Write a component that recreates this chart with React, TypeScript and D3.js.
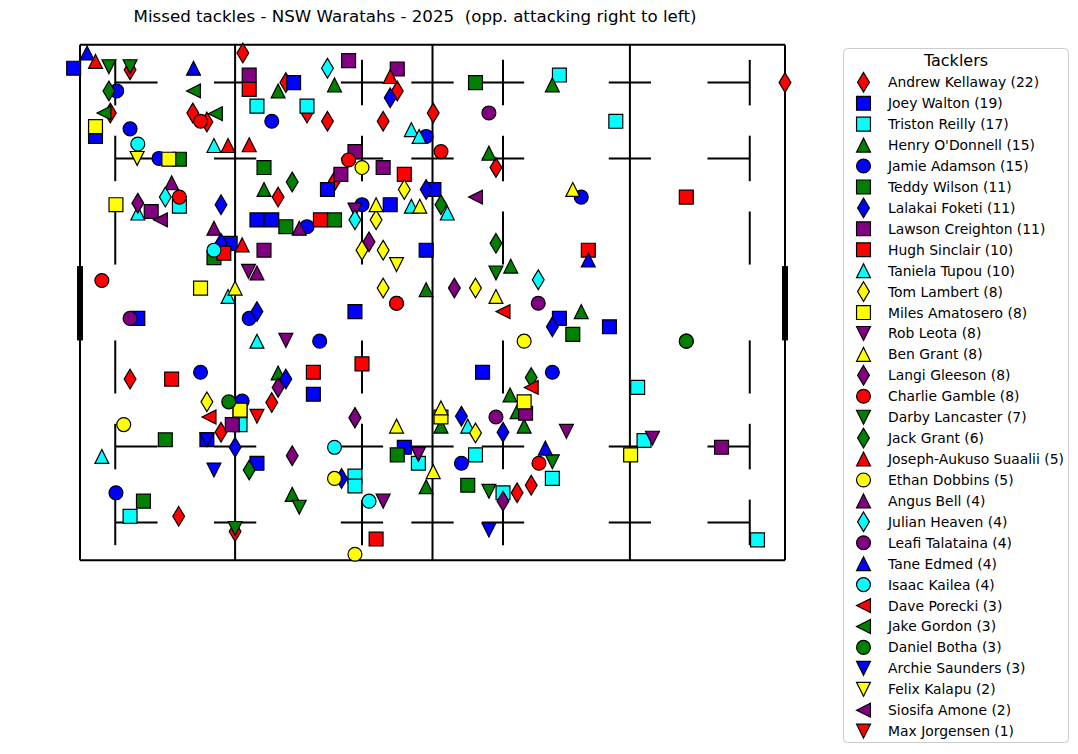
import React from 'react';
import * as d3 from 'd3';

// tackle locations, metres: x along pitch (0-100), y across (0-68 from top touchline)
const kellaway = [[7.1,3.3],[4.3,9.0],[16.0,9.0],[18.0,10.2],[23.1,1.1],[29.2,5.0],[35.1,10.1],[45.0,6.1],[43.0,10.1],[28.1,20.1],[36.1,18.0],[50.1,9.0],[59.0,16.2],[100.0,5.0],[7.1,44.1],[20.0,51.1],[14.0,62.2],[22.0,64.2],[27.2,47.2],[62.0,59.1],[64.0,58.1],[32.2,9.0]];
const walton = [[-0.9,3.1],[2.2,12.1],[21.3,26.2],[30.3,5.0],[35.1,19.1],[44.0,21.1],[50.2,19.1],[25.1,23.1],[27.2,23.1],[49.1,27.1],[8.2,36.1],[18.0,52.1],[39.0,35.2],[33.1,46.1],[25.1,55.2],[46.0,53.1],[68.0,36.1],[75.1,37.2],[57.1,43.2]];
const reilly = [[14.1,21.3],[25.1,8.1],[32.2,8.1],[68.0,4.0],[76.0,10.1],[22.7,50.1],[7.1,62.2],[48.0,55.2],[39.0,56.9],[39.0,58.2],[56.1,54.1],[67.0,57.2],[60.0,59.1],[79.1,45.2],[80.0,52.2],[96.1,65.3],[22.7,48.2]];
const odonnell = [[28.1,6.1],[36.1,5.3],[67.0,5.3],[58.0,14.3],[26.1,19.1],[61.1,29.2],[49.1,32.3],[71.1,35.2],[28.1,43.3],[61.0,46.2],[62.0,48.4],[63.0,50.3],[51.2,50.3],[49.1,58.3],[30.1,59.3]];
const adamson = [[5.2,6.1],[7.1,11.1],[11.2,15.0],[27.2,10.1],[49.1,12.1],[40.0,21.1],[32.2,24.0],[71.1,20.1],[17.1,43.2],[23.0,47.0],[5.1,59.1],[24.0,36.1],[34.0,39.1],[67.0,43.2],[54.1,55.2]];
const wilson = [[14.1,15.1],[19.0,28.1],[26.1,16.2],[29.2,24.0],[36.1,23.1],[56.1,5.0],[12.1,52.1],[9.0,60.2],[45.0,54.1],[69.9,38.2],[55.0,58.1]];
const foketi = [[20.0,21.1],[20.0,26.2],[44.0,7.0],[49.1,19.1],[22.0,53.1],[25.1,35.2],[29.2,44.1],[37.1,57.2],[67.0,37.2],[54.1,49.0],[60.0,51.1]];
const creighton = [[10.1,22.0],[24.0,4.0],[38.1,2.1],[45.0,3.2],[39.0,14.1],[43.0,16.2],[37.0,17.1],[26.1,27.1],[21.6,50.1],[91.0,53.1],[63.2,48.6]];
const sinclair = [[24.0,5.9],[46.0,17.1],[34.1,23.1],[20.4,27.5],[72.1,27.1],[86.0,20.1],[13.0,44.1],[40.0,42.1],[33.1,43.2],[42.0,65.2]];
const tupou = [[19.0,13.3],[8.2,22.2],[21.0,33.2],[47.0,11.2],[48.1,12.1],[47.0,21.3],[52.1,22.2],[3.1,54.3],[25.1,39.1],[55.0,50.3]];
const lambert = [[46.0,19.1],[42.0,23.1],[40.0,27.1],[43.0,27.1],[43.0,32.1],[56.1,32.1],[18.0,47.1],[56.1,51.2]];
const amatosero = [[2.2,10.8],[12.6,15.1],[5.1,21.1],[17.1,32.1],[22.7,48.2],[63.0,47.1],[51.2,49.1],[78.1,54.1]];
const leota = [[39.0,21.8],[23.9,29.9],[29.2,39.0],[48.0,54.0],[43.0,60.2],[69.0,51.0],[81.2,51.9],[48.0,54.0]];
const benGrant = [[42.0,21.1],[48.2,21.3],[69.9,19.1],[22.0,32.1],[59.0,33.2],[44.9,50.3],[51.2,47.9],[50.1,56.3]];
const gleeson = [[8.2,20.9],[41.0,26.0],[53.1,32.1],[28.1,45.2],[39.0,49.2],[30.1,54.2],[60.0,60.2],[39.0,49.2]];
const gamble = [[17.1,10.1],[14.1,20.1],[3.1,31.1],[38.1,15.2],[44.9,34.1],[51.2,14.1],[65.1,55.2],[44.9,34.1]];
const lancaster = [[4.1,2.9],[7.1,2.9],[59.0,30.1],[22.0,63.8],[31.1,61.0],[67.0,55.0],[58.0,58.9]];
const jackGrant = [[4.1,6.1],[30.1,18.1],[51.2,21.1],[59.0,26.2],[24.0,56.1],[64.0,43.9]];
const suaalii = [[2.2,2.2],[21.0,13.3],[24.0,13.2],[23.0,26.4],[44.0,4.2]];
const dobbins = [[40.0,16.2],[6.2,50.1],[36.1,57.2],[39.0,67.2],[63.0,39.1]];
const bell = [[13.0,18.2],[19.0,24.2],[31.1,24.2],[25.1,30.1]];
const heaven = [[12.1,20.1],[35.1,3.1],[39.0,23.1],[65.0,31.0]];
const talataina = [[58.0,9.0],[65.0,34.1],[7.1,36.1],[59.0,49.1]];
const edmed = [[1.0,1.1],[16.1,3.1],[72.1,28.4],[66.0,53.2]];
const kailea = [[8.2,13.1],[19.0,27.1],[36.1,53.1],[41.0,60.2]];
const porecki = [[18.3,49.1],[60.0,35.2],[64.0,45.2]];
const gordon = [[3.4,9.0],[16.1,6.1],[19.2,9.1]];
const botha = [[21.1,47.1],[86.0,39.1],[86.0,39.1]];
const saunders = [[18.0,52.1],[19.0,56.1],[58.0,64.0]];
const kalapu = [[8.1,15.0],[44.9,29.0]];
const amone = [[11.4,23.1],[56.1,20.1]];
const jorgensen = [[25.1,49.0]];

const NAMES = ['Andrew Kellaway', 'Joey Walton', 'Triston Reilly', "Henry O'Donnell", 'Jamie Adamson',
  'Teddy Wilson', 'Lalakai Foketi', 'Lawson Creighton', 'Hugh Sinclair', 'Taniela Tupou', 'Tom Lambert',
  'Miles Amatosero', 'Rob Leota', 'Ben Grant', 'Langi Gleeson', 'Charlie Gamble', 'Darby Lancaster',
  'Jack Grant', 'Joseph-Aukuso Suaalii', 'Ethan Dobbins', 'Angus Bell', 'Julian Heaven', 'Leafi Talataina',
  'Tane Edmed', 'Isaac Kailea', 'Dave Porecki', 'Jake Gordon', 'Daniel Botha', 'Archie Saunders',
  'Felix Kalapu', 'Siosifa Amone', 'Max Jorgensen'];
const POINTS = [kellaway, walton, reilly, odonnell, adamson, wilson, foketi, creighton, sinclair, tupou,
  lambert, amatosero, leota, benGrant, gleeson, gamble, lancaster, jackGrant, suaalii, dobbins, bell,
  heaven, talataina, edmed, kailea, porecki, gordon, botha, saunders, kalapu, amone, jorgensen];

// colour / marker cycle used by the original plot
const COLORS = ['red', 'blue', 'cyan', 'green', 'blue', 'green', 'blue', 'purple', 'red', 'cyan', 'yellow',
  'yellow', 'purple', 'yellow', 'purple', 'red', 'green', 'green', 'red', 'yellow', 'purple', 'cyan',
  'purple', 'blue', 'cyan', 'red', 'green', 'green', 'blue', 'yellow', 'purple', 'red'];
const MARKERS = ['d', 's', 's', '^', 'o', 's', 'd', 's', 's', '^', 'd', 's', 'v', '^', 'd', 'o', 'v', 'd',
  '^', 'o', '^', 'd', 'o', '^', 'o', '<', '<', 'o', 'v', 'v', '<', 'v'];
const FILL: Record<string, string> = {
  red: '#ff0000', blue: '#0000ff', cyan: '#00ffff', green: '#008000', purple: '#800080', yellow: '#ffff00',
};

// pitch markings (metres)
const LINES_X = [0, 22, 50, 78, 100];
const DASH_X = [5, 40, 60, 95];
const DASH_Y_SPANS = [[2, 8], [12, 18], [22, 29], [39, 46], [50, 56], [60, 66]];
const HDASH_Y = [5, 15, 53, 63];
const HDASH_X_SPANS = [[5, 11], [19, 25], [37, 43], [47, 53], [57, 63], [75, 81], [89, 95]];

const W = 1078;
const H = 754;
const MS = 13.9;
const FONT = 'DejaVu Sans, sans-serif';

function markerPath(kind: string, s: number): string {
  const h = s / 2;
  if (kind === 's') return `M${-h},${-h}H${h}V${h}H${-h}Z`;
  if (kind === '^') return `M0,${-h}L${h},${h}L${-h},${h}Z`;
  if (kind === 'v') return `M0,${h}L${h},${-h}L${-h},${-h}Z`;
  if (kind === '<') return `M${-h},0L${h},${-h}L${h},${h}Z`;
  if (kind === 'd') {
    const dh = (s * Math.SQRT2) / 2;
    const dw = dh * 0.6;
    return `M0,${-dh}L${dw},0L0,${dh}L${-dw},0Z`;
  }
  const r = h;
  return `M${r},0A${r},${r} 0 1,1 ${-r},0A${r},${r} 0 1,1 ${r},0Z`;
}

export default function App() {
  const x = d3.scaleLinear().domain([0, 100]).range([80, 785]);
  const y = d3.scaleLinear().domain([0, 68]).range([44.7, 560.3]);
  const legendY = (i: number) => 82.3 + i * 20.93;

  return (
    <div style={{ position: 'absolute', left: 0, top: 0 }}>
      <svg width={W} height={H} style={{ display: 'block', background: '#fff' }}>
        <text x={415} y={22} textAnchor="middle" fontFamily={FONT} fontSize={16.67} fill="#000"
          style={{ whiteSpace: 'pre' }}>
          {'Missed tackles - NSW Waratahs - 2025  (opp. attacking right to left)'}
        </text>

        <g stroke="#000" strokeWidth={2} fill="none">
          <line x1={x(0)} x2={x(100)} y1={y(0)} y2={y(0)} />
          <line x1={x(0)} x2={x(100)} y1={y(68)} y2={y(68)} />
          {LINES_X.map(v => (
            <line key={'lx' + v} x1={x(v)} x2={x(v)} y1={y(0)} y2={y(68)} />
          ))}
          {DASH_X.map(v => DASH_Y_SPANS.map(([a, b]) => (
            <line key={`dv${v}-${a}`} x1={x(v)} x2={x(v)} y1={y(a)} y2={y(b)} />
          )))}
          {HDASH_Y.map(v => HDASH_X_SPANS.map(([a, b]) => (
            <line key={`dh${v}-${a}`} x1={x(a)} x2={x(b)} y1={y(v)} y2={y(v)} />
          )))}
        </g>
        <g stroke="#000" strokeWidth={6}>
          <line x1={x(0)} x2={x(0)} y1={y(29.2)} y2={y(39)} />
          <line x1={x(100)} x2={x(100)} y1={y(29.2)} y2={y(39)} />
        </g>

        {POINTS.map((pts, i) => (
          <g key={'s' + i} fill={FILL[COLORS[i]]} stroke="#000" strokeWidth={1.2}>
            {pts.map(([px, py], j) => (
              <path key={j} d={markerPath(MARKERS[i], MS)} transform={`translate(${x(px)},${y(py)})`} />
            ))}
          </g>
        ))}

        <rect x={843.5} y={48.5} width={225} height={694} rx={4} fill="#fff" fillOpacity={0.8} stroke="#cccccc" strokeWidth={1} />
        <text x={956} y={66} textAnchor="middle" fontFamily={FONT} fontSize={16} fill="#000">Tacklers</text>
        {NAMES.map((name, i) => (
          <g key={'l' + i} transform={`translate(0,${legendY(i)})`}>
            <path d={markerPath(MARKERS[i], MS)} transform="translate(863.5,0)" fill={FILL[COLORS[i]]} stroke="#000" strokeWidth={1.2} />
            <text x={888} y={0} dy="0.36em" fontFamily={FONT} fontSize={13.9} fill="#000">
              {`${name} (${POINTS[i].length})`}
            </text>
          </g>
        ))}
      </svg>
    </div>
  );
}
